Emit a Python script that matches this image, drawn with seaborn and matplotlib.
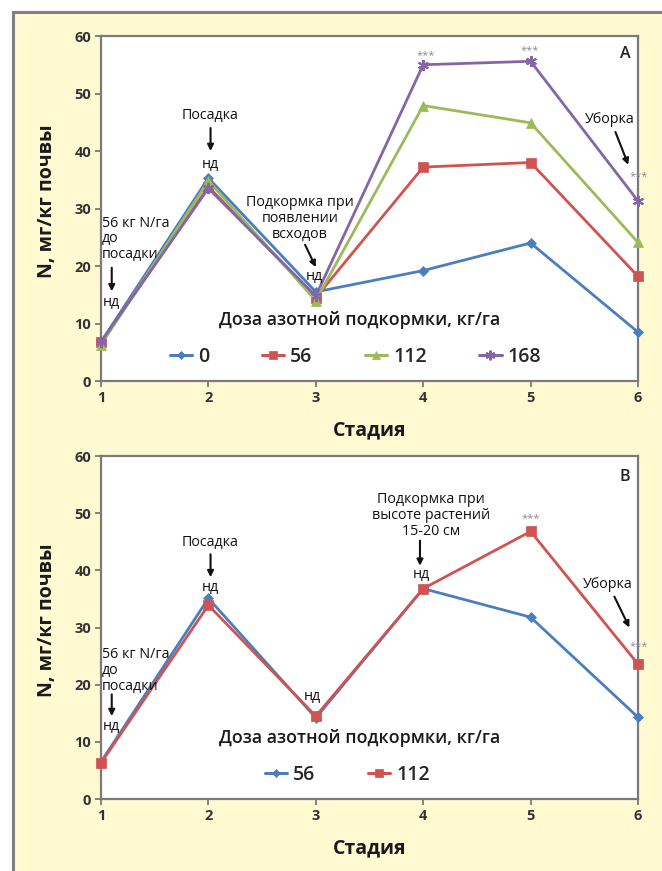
import numpy as np
import pandas as pd
import matplotlib
matplotlib.use('Agg')
import matplotlib.pyplot as plt
import seaborn as sns
from matplotlib.lines import Line2D
from matplotlib.patches import Rectangle

# ---------------- data ----------------
stages = [1, 2, 3, 4, 5, 6]
a_doses = ['0', '56', '112', '168']
a_0 = [6.8, 35.3, 15.5, 19.2, 24.0, 8.5]
a_56 = [6.7, 33.8, 14.5, 37.2, 38.0, 18.2]
a_112 = [6.3, 34.8, 14.0, 47.9, 44.9, 24.1]
a_168 = [6.8, 33.5, 14.8, 55.0, 55.6, 31.3]
b_doses = ['56', '112']
b_56 = [6.5, 35.1, 14.2, 36.8, 31.8, 14.3]
b_112 = [6.3, 33.9, 14.5, 36.8, 46.8, 23.6]

y_ticks = [0, 10, 20, 30, 40, 50, 60]
legend_title = 'Доза азотной подкормки, кг/га'
ylabel = 'N, мг/кг почвы'
xlabel = 'Стадия'

BLUE, RED, GREEN, PURPLE = '#4a7ebf', '#cf5451', '#9bbb59', '#8466a8'
MARKERS = ['D', 's', '^', (6, 2, 0)]
MSIZES = [5, 7, 7, 8]

sns.set_theme(style='white')
FONT = ['Open Sans', 'DejaVu Sans']
plt.rcParams['font.family'] = FONT

BG = '#fffad2'
fig = plt.figure(figsize=(6.62, 8.71), dpi=100)
fig.patch.set_facecolor('white')
fig.patches.append(Rectangle((13 / 662, -0.05), 1.1, (871 - 12) / 871 + 0.05,
                             transform=fig.transFigure, facecolor=BG,
                             edgecolor='#808080', lw=2.2, zorder=-10))

axA = fig.add_axes([101 / 662, 1 - 381 / 871, 537 / 662, 345 / 871])
axB = fig.add_axes([101 / 662, 1 - 799 / 871, 537 / 662, 343 / 871])


def draw(ax, doses, series, colors):
    df = pd.DataFrame({
        'stage': np.tile(stages, len(doses)),
        'N': np.concatenate(series),
        'dose': np.repeat(doses, len(stages)),
    })
    handles = []
    for i, (d, c) in enumerate(zip(doses, colors)):
        sub = df[df['dose'] == d]
        mew = 1.5 if MARKERS[i] == (6, 2, 0) else 0.5
        sns.lineplot(data=sub, x='stage', y='N', color=c, marker=MARKERS[i],
                     markersize=MSIZES[i], markeredgecolor=c, markeredgewidth=mew,
                     linewidth=2, ax=ax, legend=False, clip_on=False, zorder=3)
        handles.append(Line2D([], [], color=c, lw=2.2, marker=MARKERS[i],
                              markersize=MSIZES[i] - 1, markeredgecolor=c,
                              markeredgewidth=mew))
    ax.set_xlim(1, 6)
    ax.set_ylim(0, 60)
    ax.set_xticks(stages)
    ax.set_yticks(y_ticks)
    ax.set_facecolor('white')
    for s in ax.spines.values():
        s.set_color('#7a7a7a')
        s.set_linewidth(1.6)
    ax.tick_params(axis='both', which='both', direction='out', length=4, width=1.3,
                   color='#7a7a7a', labelsize=10.5, labelcolor='#333333', pad=3,
                   bottom=True, left=True)
    for lab in ax.get_xticklabels() + ax.get_yticklabels():
        lab.set_fontweight('bold')
    ax.set_ylabel(ylabel, fontsize=14, fontweight='bold', color='#1a1a1a')
    ax.yaxis.set_label_coords(-0.082, 0.52)
    ax.set_xlabel(xlabel, fontsize=14, fontweight='bold', color='#1a1a1a', labelpad=11)
    ax.text(0.482, 0.178, legend_title, transform=ax.transAxes, ha='center', va='center',
            fontsize=12.8, fontweight='semibold', color='#1a1a1a')
    ax.legend(handles, doses, loc='center left',
              bbox_to_anchor=((170 - 101) / 537 if len(doses) == 4 else (265 - 101) / 537, 0.07),
              ncol=len(doses), frameon=False, handlelength=1.15,
              handletextpad=0.3, columnspacing=2.7, borderpad=0, borderaxespad=0,
              prop={'weight': 'semibold', 'size': 14})


def note(ax, x, y, s, ha='center', size=10.3, color='#111111'):
    ax.text(x, y, s, ha=ha, va='center', fontsize=size, color=color,
            linespacing=1.08, zorder=5, clip_on=False)


def arrow(ax, x0, y0, x1, y1):
    ax.annotate('', xy=(x1, y1), xytext=(x0, y0),
                arrowprops=dict(arrowstyle='-|>', color='#111111', lw=1.5,
                                mutation_scale=9, shrinkA=0, shrinkB=0),
                annotation_clip=False, zorder=5)


def stars(ax, x, y):
    ax.text(x, y, '***', ha='center', va='center', fontsize=8, color='#8a8a8a',
            zorder=5, clip_on=False)


# ---------- panel A ----------
draw(axA, a_doses, [a_0, a_56, a_112, a_168], [BLUE, RED, GREEN, PURPLE])
note(axA, 1.01, 24.7, '56 кг N/га\nдо\nпосадки', ha='left')
arrow(axA, 1.10, 19.7, 1.10, 15.6)
note(axA, 1.10, 13.6, 'нд')
note(axA, 2.02, 46.1, 'Посадка')
arrow(axA, 2.02, 44.0, 2.02, 40.0)
note(axA, 2.02, 37.6, 'нд')
note(axA, 2.85, 28.3, 'Подкормка при\nпоявлении\nвсходов')
arrow(axA, 2.90, 23.7, 3.00, 19.8)
note(axA, 2.99, 18.2, 'нд')
note(axA, 5.74, 45.4, 'Уборка')
arrow(axA, 5.79, 43.3, 5.91, 37.6)
stars(axA, 4.02, 56.6)
stars(axA, 4.99, 57.4)
stars(axA, 6.01, 35.6)
axA.text(5.88, 56.9, 'A', ha='center', va='center', fontsize=11.5,
         fontweight='semibold', color='#222222')

# ---------- panel B ----------
draw(axB, b_doses, [b_56, b_112], [BLUE, RED])
note(axB, 1.01, 22.5, '56 кг N/га\nдо\nпосадки', ha='left')
arrow(axB, 1.10, 18.3, 1.10, 14.5)
note(axB, 1.10, 12.6, 'нд')
note(axB, 2.02, 44.8, 'Посадка')
arrow(axB, 2.02, 42.8, 2.02, 38.8)
note(axB, 2.02, 37.0, 'нд')
note(axB, 2.97, 17.9, 'нд')
note(axB, 4.07, 49.6, 'Подкормка при\nвысоте растений\n15-20 см')
arrow(axB, 3.97, 45.2, 3.97, 40.8)
note(axB, 3.98, 39.2, 'нд')
note(axB, 5.72, 37.6, 'Уборка')
arrow(axB, 5.78, 35.4, 5.92, 30.0)
stars(axB, 5.0, 49.1)
stars(axB, 6.01, 26.7)
axB.text(5.88, 56.3, 'B', ha='center', va='center', fontsize=11.5,
         fontweight='semibold', color='#222222')

fig.savefig('out.png', dpi=100, facecolor=fig.get_facecolor())
